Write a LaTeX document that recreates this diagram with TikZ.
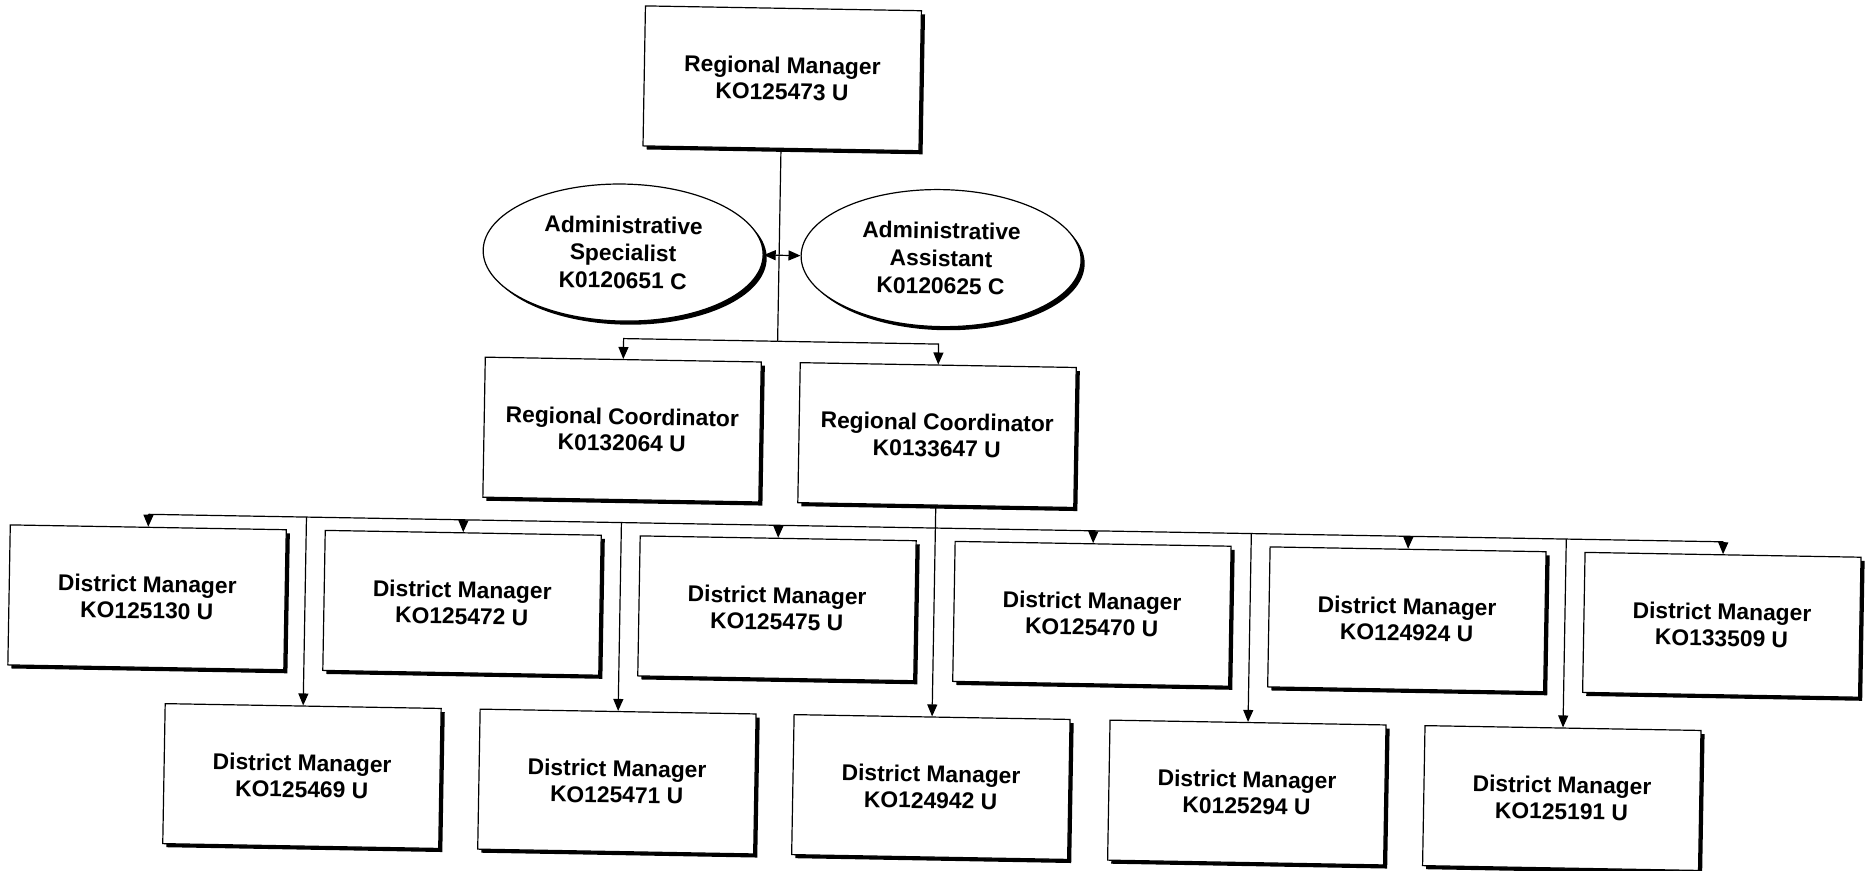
\documentclass[tikz,border=0pt]{standalone}
\usepackage{fontspec}
\setmainfont{Liberation Sans}
\usetikzlibrary{shapes.geometric,arrows.meta,shadows}
\tikzset{
  lbl/.style={align=center, font=\bfseries\fontsize{11.4}{13.2}\selectfont},
  boxnode/.style={lbl, draw, line width=0.6pt, fill=white, inner sep=0pt,
    minimum width=138pt, minimum height=70pt,
    general shadow={fill=black, shadow xshift=1.8pt, shadow yshift=-1.8pt}},
  ellnode/.style={lbl, ellipse, draw, line width=0.6pt, fill=white, inner sep=0pt,
    minimum width=140pt, minimum height=68.5pt,
    font=\bfseries\fontsize{11.4}{13.8}\selectfont,
    general shadow={fill=black, shadow xshift=1.8pt, shadow yshift=-1.8pt}},
  wire/.style={line width=0.6pt},
  conn/.style={line width=0.6pt, -{Triangle[length=6pt,width=5pt]}},
  dbl/.style={line width=0.6pt, {Triangle[length=6pt,width=5pt]}-{Triangle[length=6pt,width=5pt]}}
}
\begin{document}
\begin{tikzpicture}[x=0.5pt, y=-0.5pt]
\useasboundingbox[fill=white] (0,0) rectangle (1866,871);
\begin{scope}[rotate around={-1:(933,435)}, transform shape]
\node[boxnode] (top) at (776,81) {Regional Manager\\KO125473 U};
\node[ellnode] (as1) at (620,258) {Administrative\\Specialist\\K0120651 C};
\node[ellnode] (as2) at (938,258) {Administrative\\Assistant\\K0120625 C};
\node[boxnode] (rc1) at (622,435) {Regional Coordinator\\K0132064 U};
\node[boxnode] (rc2) at (937,435) {Regional Coordinator\\K0133647 U};

\node[boxnode] (d1) at (150,611) {District Manager\\KO125130 U};
\node[boxnode] (d2) at (465,611) {District Manager\\KO125472 U};
\node[boxnode] (d3) at (780,611) {District Manager\\KO125475 U};
\node[boxnode] (d4) at (1095,611) {District Manager\\KO125470 U};
\node[boxnode] (d5) at (1410,611) {District Manager\\KO124924 U};
\node[boxnode] (d6) at (1725,611) {District Manager\\KO133509 U};

\node[boxnode] (d7) at (308,787) {District Manager\\KO125469 U};
\node[boxnode] (d8) at (623,787) {District Manager\\KO125471 U};
\node[boxnode] (d9) at (937,787) {District Manager\\KO124942 U};
\node[boxnode] (d10) at (1253,787) {District Manager\\K0125294 U};
\node[boxnode] (d11) at (1568,787) {District Manager\\KO125191 U};

\coordinate (br) at (776,344);
\coordinate (bus) at (937,528);

\draw[wire] (top.south) -- (br);
\draw[conn] (br) -| (rc1.north);
\draw[conn] (br) -| (rc2.north);
\draw[dbl] (as1.east) -- (as2.west);

\draw[wire] (d1.north |- bus) -- (d6.north |- bus);
\draw[conn] (rc2.south) -- (d9.north);
\foreach \n in {d1,d2,d3,d4,d5,d6,d7,d8,d10,d11}
  \draw[conn] (\n.north |- bus) -- (\n.north);
\end{scope}
\end{tikzpicture}
\end{document}
